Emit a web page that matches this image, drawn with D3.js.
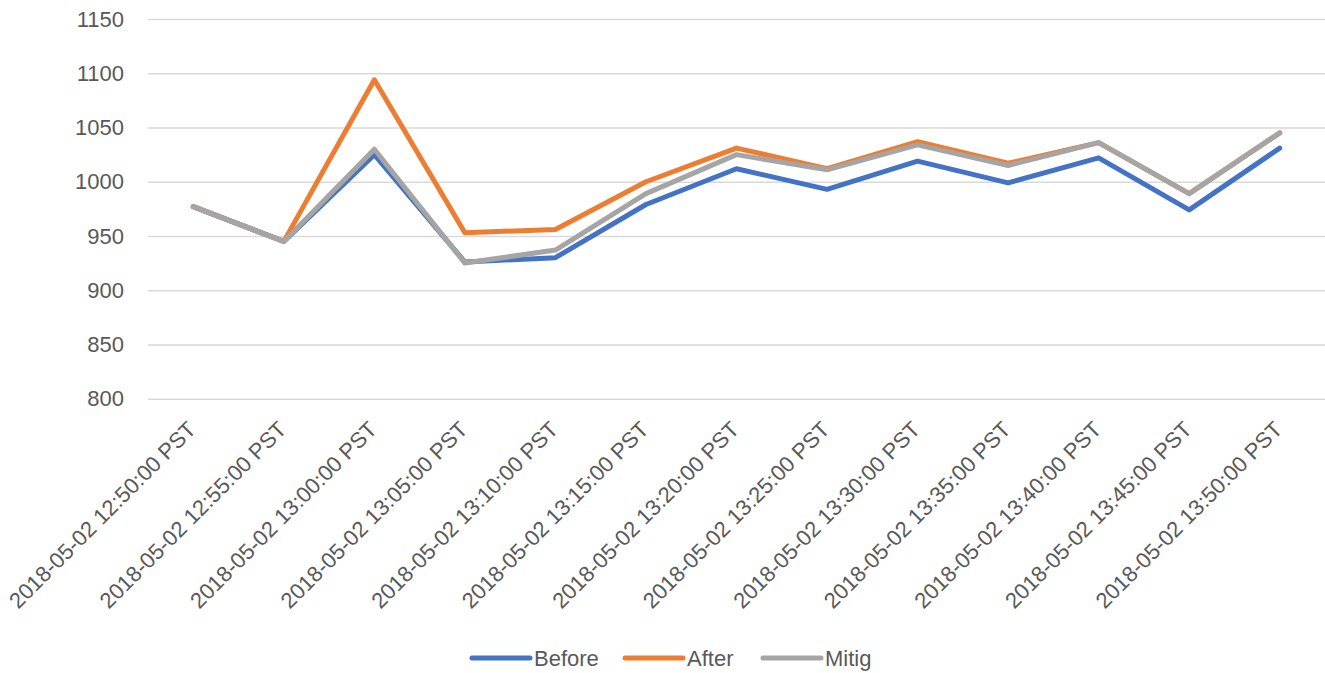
<!DOCTYPE html>
<html>
<head>
<meta charset="utf-8">
<script src="https://cdn.jsdelivr.net/npm/d3@7/dist/d3.min.js"></script>
<style>
  html, body { margin: 0; padding: 0; background: #fff; }
  svg { display: block; }
  text { font-family: "Liberation Sans", Arial, sans-serif; fill: #595959; }
</style>
</head>
<body>
<svg id="chart" width="1325" height="673"></svg>
<script>
// Time stamps on the category axis
const categories = [
  "2018-05-02 12:50:00 PST", "2018-05-02 12:55:00 PST", "2018-05-02 13:00:00 PST",
  "2018-05-02 13:05:00 PST", "2018-05-02 13:10:00 PST", "2018-05-02 13:15:00 PST",
  "2018-05-02 13:20:00 PST", "2018-05-02 13:25:00 PST", "2018-05-02 13:30:00 PST",
  "2018-05-02 13:35:00 PST", "2018-05-02 13:40:00 PST", "2018-05-02 13:45:00 PST",
  "2018-05-02 13:50:00 PST"
];

// Series values
const before = [977, 945, 1025, 926, 930, 979, 1012, 993, 1019, 999, 1022, 974, 1031];
const after  = [977, 945, 1094, 953, 956, 1000, 1031, 1012, 1037, 1017, 1036, 989, 1045];
const mitig  = [977, 945, 1030, 925, 937, 989, 1025, 1011, 1034, 1015, 1036, 989, 1045];

// Value axis ticks
const yTicks = [800, 850, 900, 950, 1000, 1050, 1100, 1150];

const seriesNames  = ["Before", "After", "Mitig"];
const seriesValues = [before, after, mitig];
const seriesColors = ["#4472C4", "#ED7D31", "#A5A5A5"];

const svg = d3.select("#chart");
const plot = { left: 148, right: 1325, top: 19, bottom: 398.7 };

const x = d3.scaleBand().domain(categories).range([plot.left, plot.right]);
const y = d3.scaleLinear().domain([800, 1150]).range([plot.bottom, plot.top]);

// Horizontal gridlines and value labels
const yAxis = d3.axisLeft(y).tickValues(yTicks).tickFormat(d3.format("d"))
  .tickSize(-(plot.right - plot.left)).tickPadding(24);
const yg = svg.append("g").attr("transform", `translate(${plot.left},0)`).call(yAxis);
yg.select(".domain").remove();
yg.selectAll(".tick line").attr("stroke", "#D9D9D9").attr("stroke-width", 1.5);
yg.selectAll(".tick text")
  .attr("fill", "#595959")
  .style("font-size", "22px")
  .style("font-family", "'Liberation Sans', Arial, sans-serif");

// Category labels, rotated
const xAxis = d3.axisBottom(x).tickSize(0).tickPadding(0);
const xg = svg.append("g").attr("transform", `translate(0,${plot.bottom})`).call(xAxis);
xg.select(".domain").remove();
xg.selectAll(".tick text")
  .attr("fill", "#595959")
  .style("font-size", "22px")
  .style("font-family", "'Liberation Sans', Arial, sans-serif")
  .attr("text-anchor", "end")
  .attr("dy", null)
  .attr("y", 0)
  .attr("transform", "translate(4,32) rotate(-45)");

// Series lines
const line = d3.line()
  .x((d, i) => x(categories[i]) + x.bandwidth() / 2)
  .y(d => y(d));

seriesValues.forEach((vals, k) => {
  svg.append("path")
    .datum(vals)
    .attr("d", line)
    .attr("fill", "none")
    .attr("stroke", seriesColors[k])
    .attr("stroke-width", 5)
    .attr("stroke-linejoin", "round")
    .attr("stroke-linecap", "round");
});

// Legend
const legendX = [472, 625, 763];
const legend = svg.append("g").attr("transform", "translate(0,658)");
seriesNames.forEach((name, k) => {
  legend.append("line")
    .attr("x1", legendX[k]).attr("x2", legendX[k] + 58)
    .attr("y1", 0).attr("y2", 0)
    .attr("stroke", seriesColors[k])
    .attr("stroke-width", 5)
    .attr("stroke-linecap", "round");
  legend.append("text")
    .attr("x", legendX[k] + 62)
    .attr("y", 8)
    .style("font-size", "22px")
    .text(name);
});
</script>
</body>
</html>
